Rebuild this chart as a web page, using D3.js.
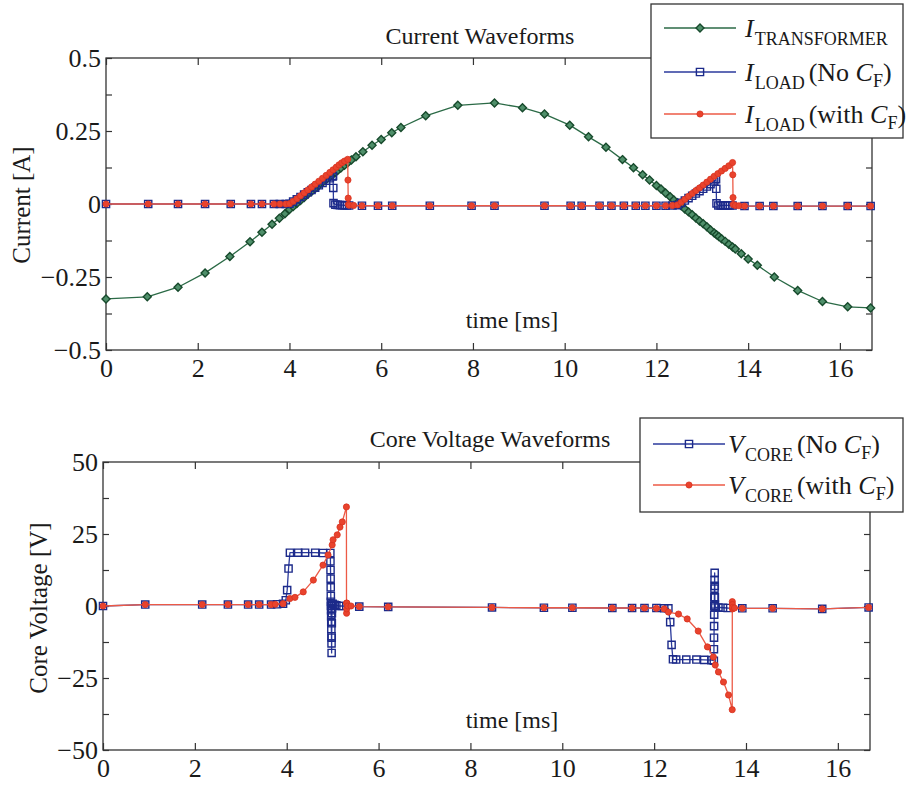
<!DOCTYPE html>
<html>
<head>
<meta charset="utf-8">
<script src="https://cdn.jsdelivr.net/npm/d3@7"></script>
<style>
  html, body { margin: 0; padding: 0; background: #fff; }
  svg { display: block; }
  svg text { font-family: "Liberation Serif", "Times New Roman", serif; }
</style>
</head>
<body>
<svg id="chart" width="906" height="789"></svg>
<script>
// ---------- axis ticks ----------
const timeTicks = [0, 2, 4, 6, 8, 10, 12, 14, 16];
const timeTickLabels = ["0", "2", "4", "6", "8", "10", "12", "14", "16"];
const currentTicks = [-0.5, -0.25, 0, 0.25, 0.5];
const currentTickLabels = ["\u22120.5", "\u22120.25", "0", "0.25", "0.5"];
const currentMinorTicks = [-0.375, -0.125, 0.125, 0.375];
const voltageTicks = [-50, -25, 0, 25, 50];
const voltageTickLabels = ["\u221250", "\u221225", "0", "25", "50"];
const voltageMinorTicks = [-37.5, -12.5, 12.5, 37.5];

// ---------- series: [time (ms), value] ----------
// Transformer current [A]
const iTransformer = [
  [0,-0.325],[0.9,-0.318],[1.57,-0.285],[2.16,-0.236],[2.7,-0.18],[3.14,-0.129],[3.4,-0.097],
  [3.62,-0.069],[3.78,-0.049],[3.9,-0.033],[4.0,-0.019],[4.08,-0.009],[4.16,0.002],[4.24,0.012],
  [4.32,0.022],[4.4,0.033],[4.48,0.043],[4.56,0.053],[4.64,0.063],[4.72,0.074],[4.8,0.084],
  [4.88,0.094],[4.95,0.102],[5.0,0.109],[5.05,0.115],[5.12,0.123],[5.2,0.133],[5.27,0.141],
  [5.35,0.151],[5.45,0.162],[5.6,0.179],[5.8,0.201],[6.0,0.221],[6.23,0.244],[6.43,0.262],
  [6.97,0.302],[7.67,0.338],[8.47,0.346],[9.08,0.33],[9.56,0.308],[10.11,0.27],[10.52,0.23],
  [10.9,0.194],[11.26,0.152],[11.5,0.124],[11.7,0.1],[11.85,0.082],[12.0,0.063],[12.1,0.051],
  [12.2,0.038],[12.3,0.025],[12.38,0.014],[12.46,0.004],[12.54,-0.006],[12.62,-0.017],
  [12.7,-0.027],[12.78,-0.037],[12.86,-0.048],[12.94,-0.058],[13.02,-0.068],[13.1,-0.078],
  [13.18,-0.089],[13.26,-0.099],[13.31,-0.105],[13.36,-0.111],[13.42,-0.119],[13.5,-0.128],
  [13.58,-0.138],[13.66,-0.147],[13.72,-0.154],[13.85,-0.17],[14.0,-0.188],[14.2,-0.21],
  [14.57,-0.25],[15.08,-0.296],[15.62,-0.334],[16.17,-0.352],[16.67,-0.356]
];

// Load current without filter capacitor [A]
const iLoadNoCf = [
  [0,0],[0.92,0],[1.57,0],[2.16,0],[2.72,0],[3.16,0],[3.4,0],[3.66,0],[3.79,0],[3.92,0],
  [4.0,0.001],[4.08,0.008],[4.16,0.016],[4.24,0.024],[4.32,0.032],[4.4,0.04],[4.48,0.048],
  [4.56,0.056],[4.64,0.064],[4.72,0.072],[4.8,0.08],[4.88,0.088],[4.94,0.094],[4.95,0.096],
  [4.955,0.055],[4.96,0.003],[5.0,-0.002],[5.05,-0.003],[5.1,-0.004],[5.15,-0.004],[5.2,-0.005],
  [5.25,-0.005],[5.3,-0.005],
  [5.58,-0.006],[5.93,-0.006],[6.24,-0.006],[7.06,-0.006],[7.97,-0.006],[8.47,-0.006],
  [9.56,-0.006],[10.13,-0.006],[10.37,-0.006],[10.76,-0.006],[11.02,-0.006],[11.29,-0.006],
  [11.55,-0.006],[11.76,-0.006],[12.0,-0.006],[12.2,-0.006],[12.35,-0.005],
  [12.46,-0.004],[12.54,0.004],[12.62,0.012],[12.7,0.02],[12.78,0.028],[12.86,0.036],
  [12.94,0.044],[13.02,0.052],[13.1,0.06],[13.18,0.068],[13.26,0.077],[13.3,0.085],
  [13.305,0.052],[13.31,0.002],[13.35,-0.005],[13.4,-0.005],[13.45,-0.005],[13.5,-0.005],
  [13.55,-0.005],[13.6,-0.005],[13.66,-0.005],
  [13.92,-0.007],[14.25,-0.007],[14.55,-0.007],[15.08,-0.007],[15.62,-0.007],[16.17,-0.007],
  [16.67,-0.007]
];

// Load current with filter capacitor [A]
const iLoadWithCf = [
  [0,0],[0.92,0],[1.57,0],[2.16,0],[2.72,0],[3.16,0],[3.4,0],[3.66,0],[3.79,0],[3.92,0],
  [4.0,0.001],[4.08,0.009],[4.16,0.018],[4.24,0.028],[4.32,0.038],[4.4,0.048],[4.48,0.058],
  [4.56,0.068],[4.64,0.078],[4.72,0.088],[4.8,0.098],[4.88,0.108],[4.95,0.117],[5.02,0.126],
  [5.08,0.134],[5.14,0.141],[5.2,0.147],[5.27,0.153],
  [5.275,0.082],[5.28,0.02],[5.285,-0.002],[5.3,-0.004],[5.4,-0.005],
  [5.58,-0.006],[5.93,-0.006],[6.24,-0.006],[7.06,-0.006],[7.97,-0.006],[8.47,-0.006],
  [9.56,-0.006],[10.13,-0.006],[10.37,-0.006],[10.76,-0.006],[11.02,-0.006],[11.29,-0.006],
  [11.55,-0.006],[11.76,-0.006],[12.0,-0.006],[12.2,-0.006],[12.35,-0.005],
  [12.46,-0.003],[12.54,0.006],[12.62,0.016],[12.7,0.026],[12.78,0.036],[12.86,0.046],
  [12.94,0.055],[13.02,0.065],[13.1,0.075],[13.18,0.085],[13.26,0.095],[13.34,0.104],
  [13.42,0.113],[13.5,0.122],[13.58,0.131],[13.66,0.142],
  [13.665,0.1],[13.67,0.022],[13.675,-0.002],[13.72,-0.005],[13.8,-0.006],
  [13.92,-0.007],[14.25,-0.007],[14.55,-0.007],[15.08,-0.007],[15.62,-0.007],[16.17,-0.007],
  [16.67,-0.007]
];

// Core voltage without filter capacitor [V]
const vCoreNoCf = [
  [0,0],[0.92,0.5],[2.16,0.5],[2.72,0.5],[3.16,0.5],[3.4,0.5],[3.66,0.5],[3.79,0.6],[3.92,0.8],
  [3.98,2.0],[4.01,5.5],[4.04,13],[4.07,18.5],[4.25,18.5],[4.4,18.5],[4.62,18.5],[4.79,18.4],
  [4.95,18.4],
  [4.952,15.5],[4.954,12.5],[4.956,9.5],[4.958,6.5],[4.96,3.5],[4.962,1.5],[4.964,0],
  [4.966,-1.5],[4.968,-3.5],[4.97,-5.5],[4.972,-8],[4.974,-10.5],[4.976,-13],[4.978,-16.3],
  [4.98,-11],[4.982,-6],[4.984,-2.5],[4.986,-0.8],[4.99,0.5],[5.0,0.8],[5.04,0.4],[5.08,0.2],
  [5.14,0],[5.2,0],
  [5.58,-0.2],[6.21,-0.3],[8.47,-0.5],[9.6,-0.6],[10.22,-0.6],[11.09,-0.7],[11.52,-0.7],
  [11.79,-0.7],[12.05,-0.7],[12.22,-0.8],[12.31,-0.8],
  [12.35,-5.6],[12.38,-13.5],[12.41,-18.5],[12.48,-18.6],[12.7,-18.6],[12.92,-18.6],
  [13.09,-18.7],[13.25,-18.8],[13.3,-19],
  [13.302,-15],[13.304,-11],[13.306,-7],[13.308,-3],[13.31,0],[13.312,3],[13.314,6],
  [13.316,9],[13.318,11.5],[13.32,7],[13.322,3],[13.324,0.5],[13.33,-0.5],[13.4,-0.5],
  [13.5,-0.6],[13.6,-0.7],
  [13.92,-0.8],[14.58,-0.8],[15.66,-1.0],[16.67,-0.5]
];

// Core voltage with filter capacitor [V]
const vCoreWithCf = [
  [0,0],[0.92,0.5],[2.16,0.5],[2.72,0.5],[3.16,0.5],[3.4,0.5],[3.66,0.5],[3.75,0.6],[3.92,0.8],
  [4.07,2.6],[4.18,3.0],[4.36,4.9],[4.58,9],[4.79,14.2],[4.9,17.7],[4.99,21.2],[5.01,23],
  [5.1,24.7],[5.16,27.4],[5.21,29.2],[5.3,34.4],
  [5.302,1],[5.304,-2.5],[5.306,-1],[5.31,1],[5.33,0],[5.4,0],
  [5.58,-0.2],[6.21,-0.3],[8.47,-0.5],[9.6,-0.6],[10.22,-0.6],[11.09,-0.7],[11.52,-0.7],
  [11.79,-0.7],[12.05,-0.8],[12.22,-1.0],
  [12.31,-2.1],[12.53,-2.8],[12.72,-4.5],[12.96,-8.7],[13.16,-14.2],[13.29,-17.7],[13.33,-20.5],
  [13.4,-22.9],[13.51,-26.4],[13.62,-30.9],[13.7,-36],
  [13.702,1.5],[13.704,0.5],[13.706,-1],[13.71,-0.5],[13.75,-0.7],
  [13.92,-0.8],[14.58,-0.8],[15.66,-1.0],[16.67,-0.5]
];

// ---------- styles ----------
const GREEN = { line: "#2b6a46", stroke: "#174a2c", fill: "#4f8f6a", marker: "diamond" };
const BLUE  = { line: "#2b3a9c", stroke: "#1c2a8a", fill: "none", marker: "square" };
const RED   = { line: "#ec5a46", stroke: "#d8321f", fill: "#e9432d", marker: "circle" };

const SERIF = "Liberation Serif, Times New Roman, serif";
const INK = "#1a1a1a";
const TICK_FONT = 26;
const LABEL_FONT = 25;

const svg = d3.select("#chart");

function markerPath(kind) {
  if (kind === "diamond") return "M0,-4L4,0L0,4L-4,0Z";
  if (kind === "square") return "M-3.6,-3.6H3.6V3.6H-3.6Z";
  return d3.symbol().type(d3.symbolCircle).size(30)();
}

function drawSeries(g, x, y, data, st) {
  const line = d3.line().x(d => x(d[0])).y(d => y(d[1]));
  g.append("path").attr("d", line(data))
    .attr("fill", "none").attr("stroke", st.line).attr("stroke-width", 1.3)
    .attr("stroke-linejoin", "round");
  g.append("g").selectAll("path").data(data).join("path")
    .attr("transform", d => `translate(${x(d[0])},${y(d[1])})`)
    .attr("d", markerPath(st.marker))
    .attr("fill", st.fill)
    .attr("stroke", st.stroke)
    .attr("stroke-width", st.marker === "circle" ? 0.8 : 1.4);
}

function drawPanel(p) {
  const x = d3.scaleLinear().domain([0, 16.7]).range([p.left, p.right]);
  const y = d3.scaleLinear().domain(p.yDomain).range([p.bottom, p.top]);
  const g = svg.append("g");

  // frame
  g.append("rect").attr("x", p.left).attr("y", p.top)
    .attr("width", p.right - p.left).attr("height", p.bottom - p.top)
    .attr("fill", "none").attr("stroke", "#333").attr("stroke-width", 1.3);

  const styleAxis = a => {
    a.attr("font-family", SERIF).attr("font-size", TICK_FONT);
    a.select(".domain").remove();
    a.selectAll(".tick line").attr("stroke", "#333").attr("stroke-width", 1.2);
    a.selectAll("text").attr("fill", INK);
  };

  // bottom / top time axes (ticks point inward)
  g.append("g").attr("transform", `translate(0,${p.bottom})`)
    .call(d3.axisBottom(x).tickValues(timeTicks).tickSize(-7).tickPadding(9)
      .tickFormat((d, i) => timeTickLabels[i]))
    .call(styleAxis);
  g.append("g").attr("transform", `translate(0,${p.top})`)
    .call(d3.axisTop(x).tickValues(timeTicks).tickSize(-7).tickFormat(""))
    .call(styleAxis);

  // left / right value axes
  g.append("g").attr("transform", `translate(${p.left},0)`)
    .call(d3.axisLeft(y).tickValues(p.yTicks).tickSize(-6).tickPadding(5)
      .tickFormat((d, i) => p.yLabels[i]))
    .call(styleAxis);
  g.append("g").attr("transform", `translate(${p.left},0)`)
    .call(d3.axisLeft(y).tickValues(p.yMinor).tickSize(-6).tickFormat(""))
    .call(styleAxis);
  g.append("g").attr("transform", `translate(${p.right},0)`)
    .call(d3.axisRight(y).tickValues(p.yTicks.concat(p.yMinor)).tickSize(-6).tickFormat(""))
    .call(styleAxis);

  // title and axis labels
  g.append("text").attr("x", p.titleX).attr("y", p.titleY)
    .attr("text-anchor", "middle").attr("font-family", SERIF).attr("font-size", 24)
    .attr("fill", INK).text(p.title);
  g.append("text").attr("transform", `translate(${p.yLabelX},${p.yLabelY}) rotate(-90)`)
    .attr("text-anchor", "middle").attr("font-family", SERIF).attr("font-size", LABEL_FONT)
    .attr("fill", INK).text(p.yLabel);
  g.append("text").attr("x", 512).attr("y", p.xLabelY)
    .attr("text-anchor", "middle").attr("font-family", SERIF).attr("font-size", 24)
    .attr("fill", INK).text("time [ms]");

  p.series.forEach(s => drawSeries(g, x, y, s.data, s.style));
  return g;
}

function drawLegend(L) {
  const g = svg.append("g").attr("font-family", SERIF);
  g.append("rect").attr("x", L.x).attr("y", L.y).attr("width", L.w).attr("height", L.h)
    .attr("fill", "#fff").attr("stroke", "#333").attr("stroke-width", 1.3);
  L.rows.forEach((r, i) => {
    const yy = L.rowY[i];
    g.append("line").attr("x1", L.lineX1).attr("x2", L.lineX2).attr("y1", yy).attr("y2", yy)
      .attr("stroke", r.style.line).attr("stroke-width", 1.4);
    g.append("path").attr("transform", `translate(${(L.lineX1 + L.lineX2) / 2},${yy})`)
      .attr("d", markerPath(r.style.marker)).attr("fill", r.style.fill)
      .attr("stroke", r.style.stroke).attr("stroke-width", r.style.marker === "circle" ? 0.8 : 1.4);
    const t = g.append("text").attr("x", L.textX).attr("y", yy + 9)
      .attr("font-size", 26).attr("fill", INK);
    t.append("tspan").attr("font-style", "italic").text(r.sym);
    t.append("tspan").attr("font-size", 18).attr("dy", 8).attr("dx", 1).text(r.sub);
    if (r.note) {
      t.append("tspan").attr("dy", -8).attr("dx", 4).text(r.note);
      t.append("tspan").attr("font-style", "italic").text("C");
      t.append("tspan").attr("font-size", 18).attr("dy", 6).text("F");
      t.append("tspan").attr("dy", -6).text(")");
    }
  });
}

drawPanel({
  left: 106, right: 872, top: 58, bottom: 350,
  yDomain: [-0.5, 0.5], yTicks: currentTicks, yLabels: currentTickLabels, yMinor: currentMinorTicks,
  title: "Current Waveforms", titleX: 480, titleY: 44,
  yLabel: "Current [A]", yLabelX: 30, yLabelY: 205, xLabelY: 328,
  series: [
    { data: iTransformer, style: GREEN },
    { data: iLoadNoCf, style: BLUE },
    { data: iLoadWithCf, style: RED }
  ]
});

drawPanel({
  left: 103, right: 870, top: 462, bottom: 750,
  yDomain: [-50, 50], yTicks: voltageTicks, yLabels: voltageTickLabels, yMinor: voltageMinorTicks,
  title: "Core Voltage Waveforms", titleX: 490, titleY: 447,
  yLabel: "Core Voltage [V]", yLabelX: 47, yLabelY: 608, xLabelY: 728,
  series: [
    { data: vCoreNoCf, style: BLUE },
    { data: vCoreWithCf, style: RED }
  ]
});

drawLegend({
  x: 651, y: 4, w: 252, h: 134, lineX1: 664, lineX2: 736, textX: 745,
  rowY: [28, 72, 114],
  rows: [
    { style: GREEN, sym: "I", sub: "TRANSFORMER" },
    { style: BLUE, sym: "I", sub: "LOAD", note: "(No " },
    { style: RED, sym: "I", sub: "LOAD", note: "(with " }
  ]
});

drawLegend({
  x: 640, y: 418, w: 263, h: 94, lineX1: 653, lineX2: 725, textX: 728,
  rowY: [444, 485],
  rows: [
    { style: BLUE, sym: "V", sub: "CORE", note: "(No " },
    { style: RED, sym: "V", sub: "CORE", note: "(with " }
  ]
});
</script>
</body>
</html>
